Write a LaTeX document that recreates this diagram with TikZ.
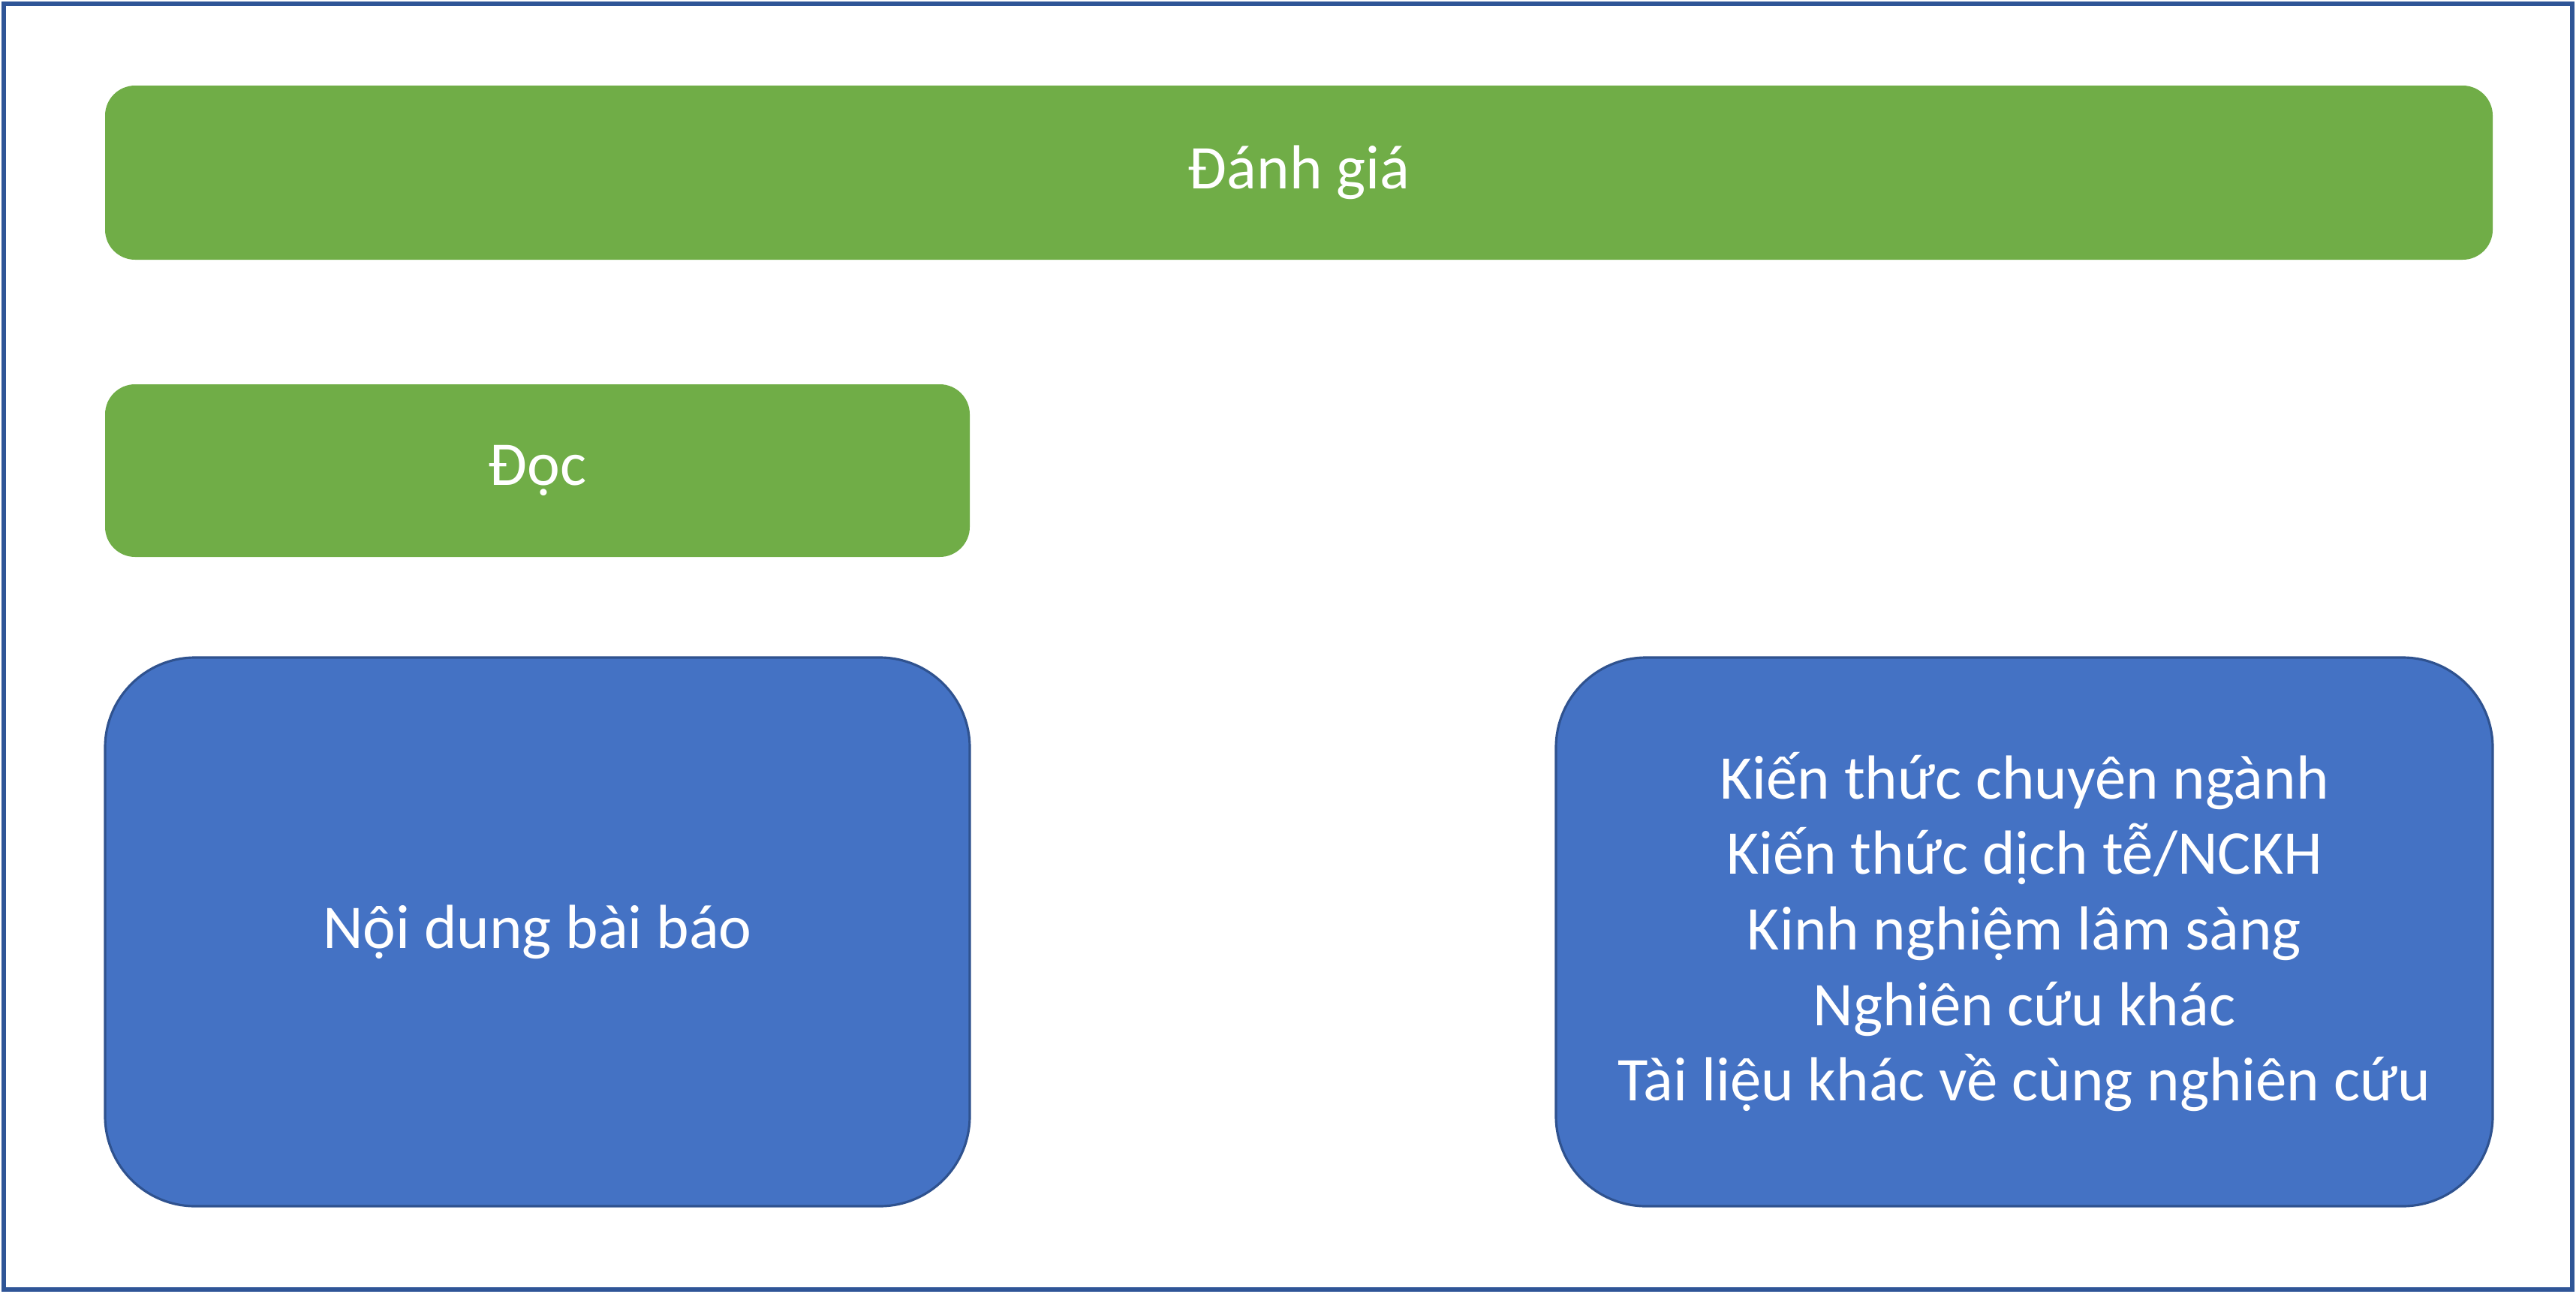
\documentclass[tikz,border=0pt]{standalone}
\usepackage{fontspec}
\setmainfont{Carlito}
\usetikzlibrary{positioning}
\definecolor{framecolor}{RGB}{47,85,151}
\definecolor{stepgreen}{RGB}{112,173,71}
\definecolor{srcblue}{RGB}{68,114,196}
\definecolor{srcedge}{RGB}{47,82,143}

\begin{document}
\begin{tikzpicture}[
    greenbox/.style={fill=stepgreen, rounded corners=0.4cm, minimum width=11.52cm,
                     minimum height=2.30cm, align=center, text=white,
                     font=\fontsize{23.6}{28.6}\selectfont, inner sep=0pt, outer sep=0pt},
    topbar/.style={greenbox, minimum width=31.81cm, minimum height=2.32cm},
    bluebox/.style={greenbox, fill=srcblue, draw=srcedge, line width=0.9pt,
                    rounded corners=1.2cm, minimum height=7.31cm},
    frame/.style={draw=framecolor, line width=1.7pt}
  ]
  \useasboundingbox (0,0) rectangle (34.32,-17.23);
  % outer frame
  \draw[frame] (0.05,-0.05) rectangle (34.27,-17.18);
  % green steps
  \node[topbar] (eval) at (17.305,-2.30) {Đánh giá};
  \node[greenbox, below=1.66cm of eval.south west, anchor=north west] (read) {Đọc};
  % sources
  \node[bluebox, below=1.34cm of read.south west, anchor=north west] (content) {Nội dung bài báo};
  \node[bluebox, minimum width=12.48cm, anchor=north east] (knowledge) at (eval.east |- content.north)
    {Kiến thức chuyên ngành\\Kiến thức dịch tễ/NCKH\\Kinh nghiệm lâm sàng\\Nghiên cứu khác\\Tài liệu khác về cùng nghiên cứu};
\end{tikzpicture}
\end{document}
